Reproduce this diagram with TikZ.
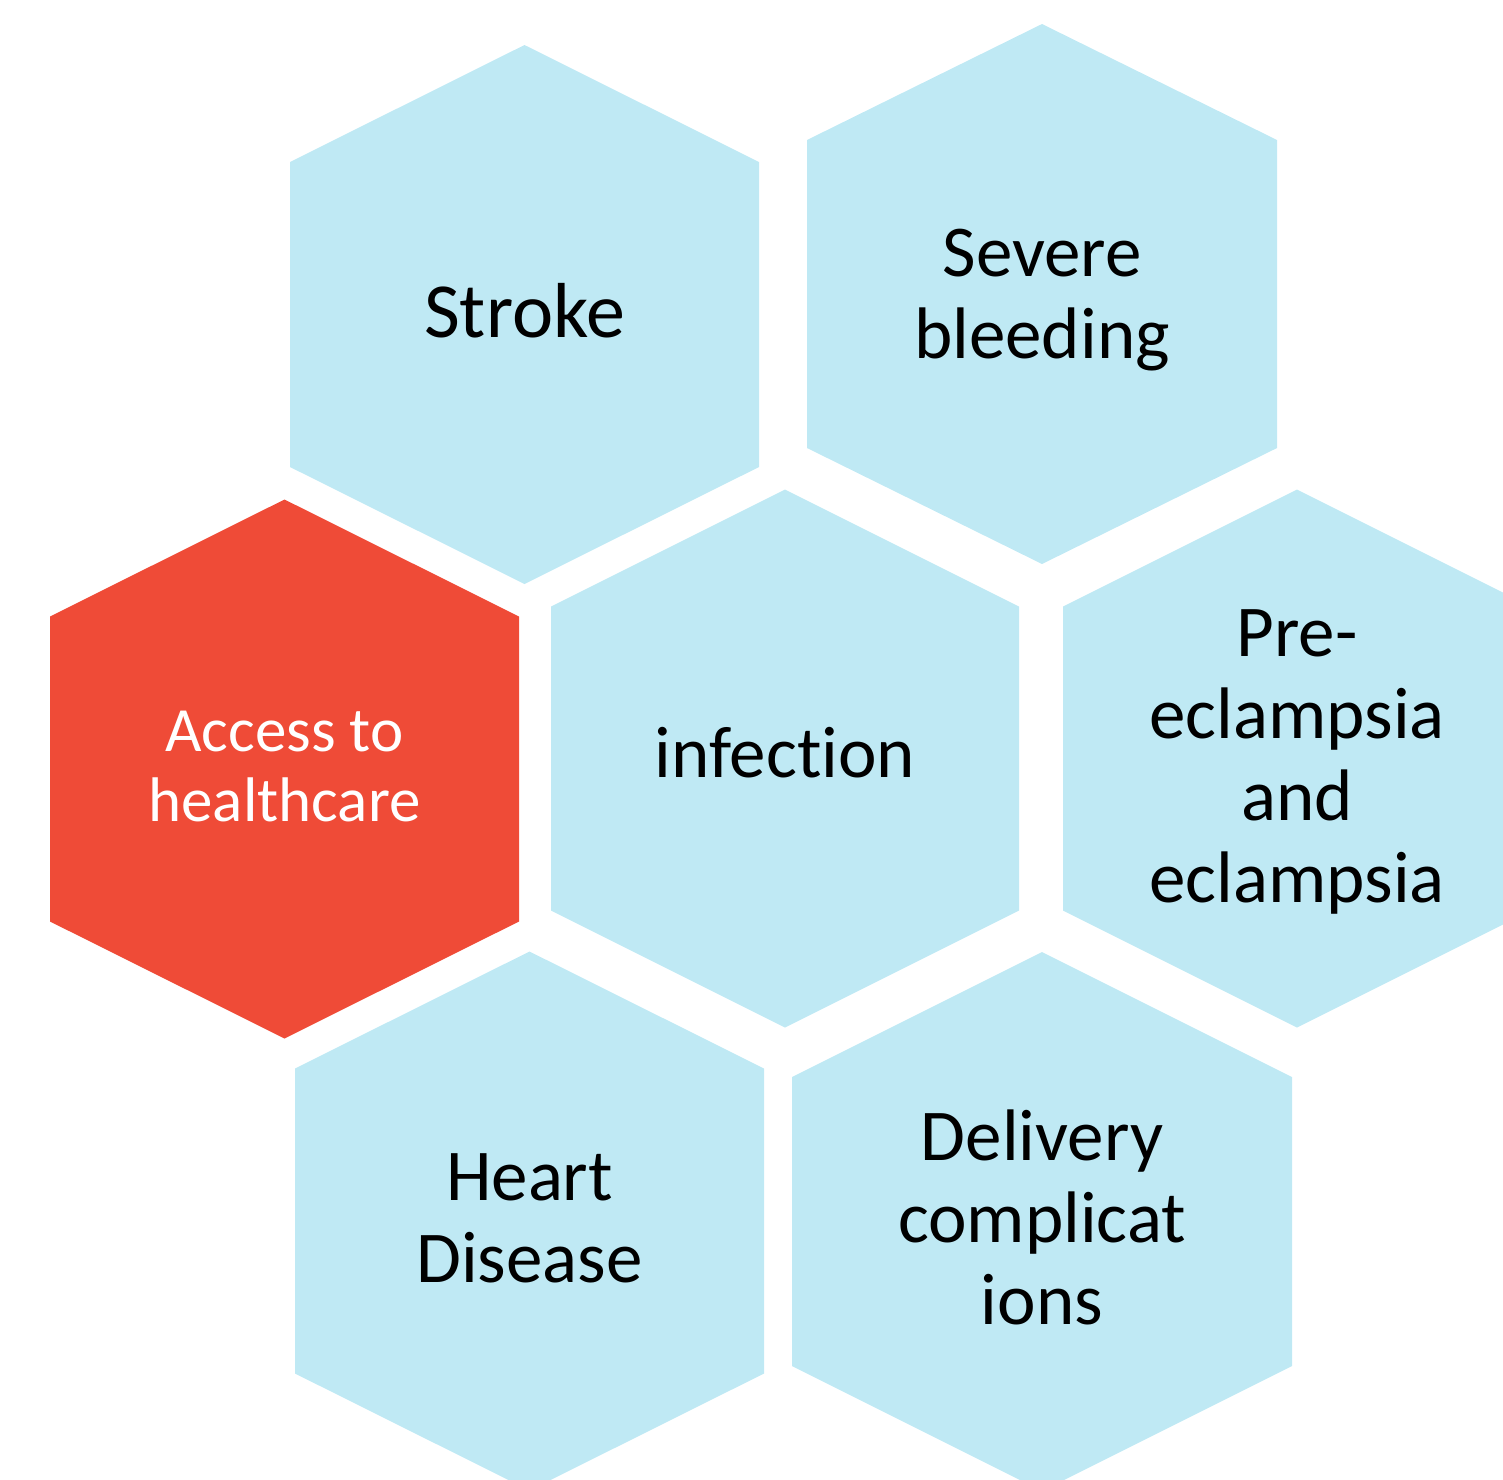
\documentclass[tikz,border=0pt]{standalone}
\usepackage{fontspec}
\setmainfont{Carlito}[Ligatures={NoCommon}]
\definecolor{hexblue}{HTML}{BFE9F4}
\definecolor{hexred}{HTML}{EF4B37}
\newcommand\myhex[6]{%
  \fill[#6] (#1,#2-#5) -- (#1+#3,#2-#5+#4) -- (#1+#3,#2+#5-#4) -- (#1,#2+#5)
    -- (#1-#3,#2+#5-#4) -- (#1-#3,#2-#5+#4) -- cycle;}
\tikzset{
  lbl/.style={align=center, text=black, inner sep=0pt,
    font=\fontsize{36.5}{41}\selectfont},
  lblw/.style={align=center, text=white, inner sep=0pt,
    font=\fontsize{31.5}{35}\selectfont}
}
\begin{document}
\begin{tikzpicture}[x=0.5pt,y=-0.5pt]
\useasboundingbox (0,0) rectangle (1503,1479);
\clip (0,0) rectangle (1503,1479);
% hexagons
\myhex{524.5}{314.5}{234.5}{117}{269.5}{hexblue}
\myhex{1042}{294}{235}{116}{270}{hexblue}
\myhex{284.5}{769}{234.5}{117}{269.5}{hexred}
\myhex{785}{758.5}{234}{117}{269}{hexblue}
\myhex{1297}{758.5}{234}{117}{269}{hexblue}
\myhex{529.5}{1221}{234.5}{117}{269.5}{hexblue}
\myhex{1042}{1221.5}{250}{125}{269.5}{hexblue}
% labels
\node[lbl, font=\fontsize{39}{44}\selectfont] (stroke) at (524.5,311) {Stroke};
\node[lbl] (bleed) at (1042,300) {Severe\\bleeding};
\node[lblw] (access) at (284.5,767) {Access to\\healthcare};
\node[lbl] (infect) at (785,753) {infection};
\node[lbl] (pre) at (1297,762) {Pre-\\eclampsia\\and\\eclampsia};
\node[lbl] (heart) at (529.5,1218) {Heart\\Disease};
\node[lbl] (deliv) at (1042,1217) {Delivery\\complicat\\ions};
\end{tikzpicture}
\end{document}
